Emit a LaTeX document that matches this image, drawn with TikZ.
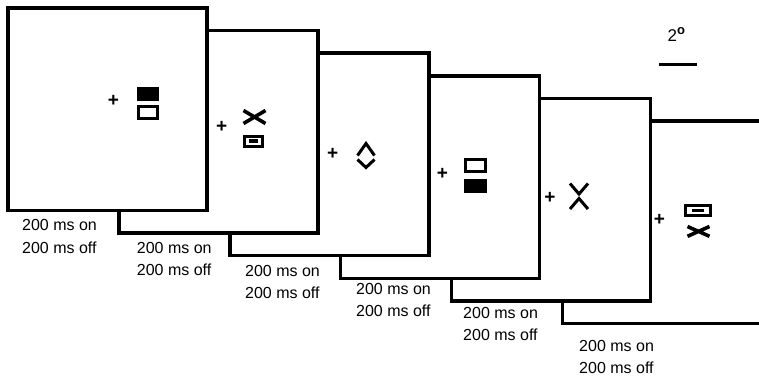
\documentclass[tikz,border=0pt]{standalone}
\usepackage{fontspec}
\setmainfont{Liberation Sans}
\begin{document}
\begin{tikzpicture}[x=1pt,y=-1pt,
  frame/.style={draw=black,fill=white,line width=3.5pt,minimum width=199pt,
    minimum height=202.5pt,inner sep=0pt,outer sep=0pt},
  lab/.style={font=\fontsize{16}{18}\selectfont,inner sep=0pt,anchor=west},
  fix/.style={font=\fontsize{19}{20}\selectfont\bfseries,inner sep=0pt},
  bar/.style={line width=3pt},
  stroke/.style={line width=3.6pt,line cap=butt,line join=miter},
  chev/.style={line width=3pt,line join=miter}]
\useasboundingbox (0,0) rectangle (759,376);
\clip (0,0) rectangle (759,376);

% display screens, the last one drawn first so the earlier ones overlap it
\foreach \i in {5,4,...,0}{
  \pgfmathsetmacro\cx{8+110.9*\i+99.5}
  \pgfmathsetmacro\cy{8+22.6*\i+101.25}
  \pgfmathtruncatemacro\n{\i+1}
  \node[frame] (f\n) at (\cx,\cy) {};
}

% fixation crosses
\node[fix] (p1) at (113.3,101) {+};
\node[fix] (p2) at (221.7,126.7) {+};
\node[fix] (p3) at (332.7,154) {+};
\node[fix] (p4) at (442.3,174) {+};
\node[fix] (p5) at (550,198.3) {+};
\node[fix] (p6) at (659.3,220) {+};

% screen 1: filled bar over open bar
\fill (137,87) rectangle (159,100.5);
\draw[bar] (138.5,106.5) rectangle (157.5,118.5);

% screen 2: cross over framed bar
\draw[stroke] (243.5,110.5) -- (265.5,123.5) (243.5,123.5) -- (265.5,110.5);
\draw[bar] (244.8,136.5) rectangle (262.5,146.8);
\fill (249,139.3) rectangle (258.3,143.3);

% screen 3: split diamond
\draw[chev] (357.5,155.5) -- (366,143.5) -- (374.5,155.5);
\draw[chev] (357.5,159.5) -- (366,167.5) -- (374.5,159.5);

% screen 4: open bar over filled bar
\draw[bar] (465.8,159.8) rectangle (485.2,171.8);
\fill (464.3,179.3) rectangle (486.7,192.7);

% screen 5: opposed chevrons
\draw[chev] (570,183.5) -- (579,194) -- (588,183.5);
\draw[chev] (570,209) -- (579,198.5) -- (588,209);

% screen 6: framed bar over cross
\draw[bar] (685.8,205.5) rectangle (710.2,215.8);
\fill (691.7,209.3) rectangle (704,212.3);
\draw[stroke] (687.5,226.5) -- (709.5,236.3) (687.5,236.3) -- (709.5,226.5);

% scale marker
\node[font=\fontsize{17}{18}\selectfont,inner sep=0pt,anchor=base west] (deg)
  at (667.5,41) {2\raisebox{6.6pt}{\fontsize{13}{13}\selectfont\bfseries o}};
\coordinate (s1) at (659.3,64.3);
\coordinate (s2) at (696.7,64.3);
\draw[line width=2.6pt] (s1) -- (s2);

% timing labels
\foreach \n/\x/\y in {1/22/225,2/136.7/247.7,3/245/270.7,4/356/288.7,5/463/312.7,6/579/345.5}{
  \node[lab] (on\n) at (\x,\y) {200 ms on};
  \node[lab] (off\n) at (\x,\y+22.5) {200 ms off};
}
\end{tikzpicture}
\end{document}
